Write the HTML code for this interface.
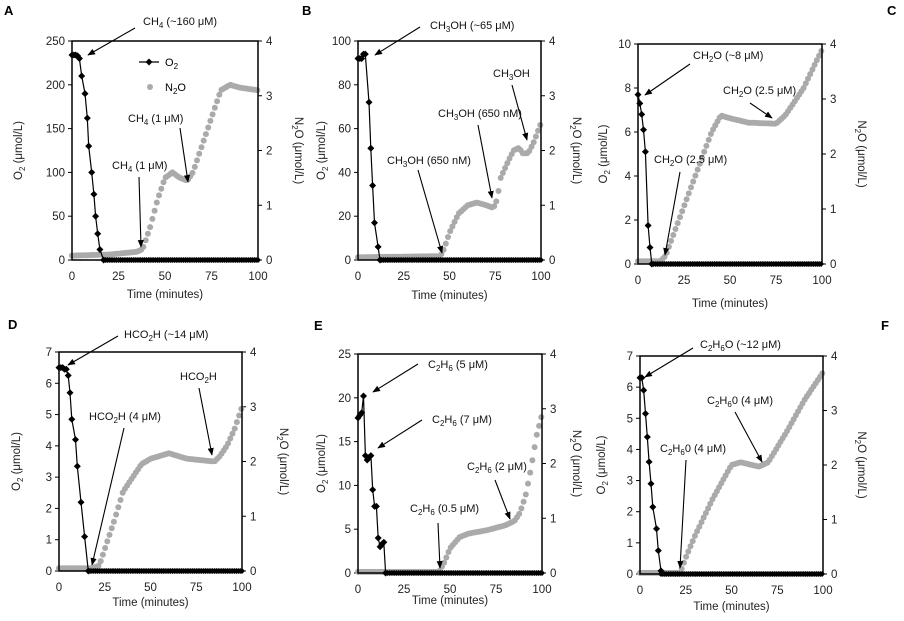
<!DOCTYPE html><html><head><meta charset="utf-8"><style>body{margin:0;background:#fff}svg{display:block;font-family:"Liberation Sans",sans-serif}</style></head><body>
<svg id="s" width="904" height="621" xmlns="http://www.w3.org/2000/svg">
<defs><marker id="ah" viewBox="0 0 10 10" refX="9" refY="5" markerWidth="7" markerHeight="7" orient="auto"><path d="M0,1 L10,5 L0,9 z" fill="#000"/></marker></defs>
<g id="g"></g>
<text x="4" y="15" font-size="13" font-weight="bold">A</text>
<text x="302" y="15" font-size="13" font-weight="bold">B</text>
<text x="887" y="15" font-size="13" font-weight="bold">C</text>
<text x="8" y="329" font-size="13" font-weight="bold">D</text>
<text x="314" y="330" font-size="13" font-weight="bold">E</text>
<text x="881" y="330" font-size="13" font-weight="bold">F</text>
</svg>
<script>
var P=[
{l:72,r:258,t:41,b:260,ym:250,ys:50,ly:22,ry:295,ty:298,
o:[[0,234],[1,234],[2,234],[3,233],[4,230],[5.2,210],[7,190],[8.2,162],[9,130],[10.6,100],[11.8,75],[12.7,50],[13.8,30],[15,12],[17,0]],
n:[[0,.08],[20,.1],[35,.15],[38,.2],[42,.6],[46,1.1],[50,1.5],[54,1.6],[58,1.5],[62,1.45],[65,1.6],[70,2.1],[75,2.6],[80,3.1],[85,3.2],[90,3.15],[100,3.1]],
a:[["CH<tspan font-size='8' dy='3'>4</tspan><tspan dy='-3'> (~160 μM)</tspan>",143,25,135,28,88,55],["CH<tspan font-size='8' dy='3'>4</tspan><tspan dy='-3'> (1 μM)</tspan>",128,122,180,128,188,182],["CH<tspan font-size='8' dy='3'>4</tspan><tspan dy='-3'> (1 μM)</tspan>",112,169,139,177,141,247]]},
{l:358,r:541,t:41,b:260,ym:100,ys:20,ly:325,ry:573,ty:299,
o:[[0,92],[1,92],[2,92],[3,94],[4,94],[6,72],[7,51],[8,34],[9,17],[11,6],[12,0]],
n:[[0,.05],[45,.07],[47,.2],[50,.5],[55,.85],[60,1],[65,1.05],[70,1],[74,.95],[76,1.1],[78,1.5],[82,1.8],[85,2],[88,2.05],[90,1.95],[93,1.95],[96,2.15],[100,2.5]],
a:[["CH<tspan font-size='8' dy='3'>3</tspan><tspan dy='-3'>OH (~65 μM)</tspan>",430,29,420,27,375,55],["CH<tspan font-size='8' dy='3'>3</tspan><tspan dy='-3'>OH</tspan>",493,77,512,85,527,140],["CH<tspan font-size='8' dy='3'>3</tspan><tspan dy='-3'>OH (650 nM)</tspan>",438,117,478,125,492,198],["CH<tspan font-size='8' dy='3'>3</tspan><tspan dy='-3'>OH (650 nM)</tspan>",387,164,418,170,442,253]]},
{l:638,r:822,t:44,b:264,ym:10,ys:2,ly:607,ry:858,ty:307,
o:[[0,7.7],[1,7.3],[2,6.8],[3,6.1],[4,5.1],[5.5,1.75],[6.5,.75],[7.5,0]],
n:[[0,.05],[12,.05],[15,.15],[20,.6],[30,1.5],[40,2.4],[45,2.7],[50,2.65],[60,2.57],[75,2.55],[80,2.7],[90,3.2],[100,3.9]],
a:[["CH<tspan font-size='8' dy='3'>2</tspan><tspan dy='-3'>O (~8 μM)</tspan>",693,59,690,64,645,95],["CH<tspan font-size='8' dy='3'>2</tspan><tspan dy='-3'>O (2.5 μM)</tspan>",723,94,750,103,772,118],["CH<tspan font-size='8' dy='3'>2</tspan><tspan dy='-3'>O (2.5 μM)</tspan>",654,163,680,172,665,255]]},
{l:59,r:242,t:352,b:571,ym:7,ys:1,ly:20,ry:280,ty:606,
o:[[0,6.5],[1,6.5],[2,6.5],[3,6.45],[4,6.45],[5,6.25],[6,5.7],[7,4.85],[9,4.2],[10,3.35],[12,2.2],[14,1.1],[16,0]],
n:[[0,.05],[18,.05],[22,.1],[25,.4],[30,.9],[35,1.45],[40,1.7],[45,1.95],[50,2.05],[60,2.15],[70,2.05],[85,2],[88,2.1],[92,2.3],[96,2.6],[100,3]],
a:[["HCO<tspan font-size='8' dy='3'>2</tspan><tspan dy='-3'>H (~14 μM)</tspan>",124,338,118,336,68,365],["HCO<tspan font-size='8' dy='3'>2</tspan><tspan dy='-3'>H</tspan>",180,380,199,388,212,455],["HCO<tspan font-size='8' dy='3'>2</tspan><tspan dy='-3'>H (4 μM)</tspan>",89,420,124,428,92,565]]},
{l:358,r:542,t:354,b:573,ym:25,ys:5,ly:325,ry:573,ty:604,
o:[[0,17.7],[1,18],[2,18.3],[3,20.2],[4,13.4],[5,12.9],[6,13.2],[7,13.4],[8,9.5],[9,7.6],[10,7.6],[11,4],[12,3],[13,3.3],[14,3.5],[15,0]],
n:[[0,.02],[44,.02],[47,.2],[50,.45],[55,.65],[60,.72],[70,.78],[80,.87],[85,.95],[88,1.1],[91,1.4],[94,1.9],[97,2.5],[100,2.9]],
a:[["C<tspan font-size='8' dy='3'>2</tspan><tspan dy='-3'>H</tspan><tspan font-size='8' dy='3'>6</tspan><tspan dy='-3'> (5 μM)</tspan>",428,368,418,364,373,392],["C<tspan font-size='8' dy='3'>2</tspan><tspan dy='-3'>H</tspan><tspan font-size='8' dy='3'>6</tspan><tspan dy='-3'> (7 μM)</tspan>",432,423,422,420,378,448],["C<tspan font-size='8' dy='3'>2</tspan><tspan dy='-3'>H</tspan><tspan font-size='8' dy='3'>6</tspan><tspan dy='-3'> (0.5 μM)</tspan>",410,512,438,523,440,568],["C<tspan font-size='8' dy='3'>2</tspan><tspan dy='-3'>H</tspan><tspan font-size='8' dy='3'>6</tspan><tspan dy='-3'> (2 μM)</tspan>",467,470,495,480,510,519]]},
{l:640,r:823,t:356,b:574,ym:7,ys:1,ly:605,ry:858,ty:610,
o:[[0,6.3],[1,6.3],[2,5.9],[3,5.15],[4,4.4],[5,3.6],[6,2.9],[7,2.15],[9,1.45],[10,.75],[11.5,.1]],
n:[[0,.02],[22,.02],[25,.3],[30,.7],[40,1.4],[50,2],[55,2.05],[65,1.97],[70,2.05],[80,2.6],[90,3.2],[100,3.7]],
a:[["C<tspan font-size='8' dy='3'>2</tspan><tspan dy='-3'>H</tspan><tspan font-size='8' dy='3'>6</tspan><tspan dy='-3'>O (~12 μM)</tspan>",700,348,693,348,645,377],["C<tspan font-size='8' dy='3'>2</tspan><tspan dy='-3'>H</tspan><tspan font-size='8' dy='3'>6</tspan><tspan dy='-3'>0 (4 μM)</tspan>",707,404,735,412,762,462],["C<tspan font-size='8' dy='3'>2</tspan><tspan dy='-3'>H</tspan><tspan font-size='8' dy='3'>6</tspan><tspan dy='-3'>0 (4 μM)</tspan>",660,452,686,460,680,568]]}
];
function interp(a,t){for(var i=1;i<a.length;i++)if(t<=a[i][0]){var p=a[i-1],q=a[i];return p[1]+(q[1]-p[1])*(t-p[0])/(q[0]-p[0]);}return a[a.length-1][1];}
function dia(x,y,r){x=+x;y=+y;return "<path d='M"+x.toFixed(1)+","+(y-r).toFixed(1)+"L"+(x+r).toFixed(1)+","+y.toFixed(1)+"L"+x.toFixed(1)+","+(y+r).toFixed(1)+"L"+(x-r).toFixed(1)+","+y.toFixed(1)+"z'/>";}
var h="";
P.forEach(function(p){
var X=function(t){return p.l+(p.r-p.l)*t/100},Y=function(v){return p.b-(p.b-p.t)*v/p.ym},N=function(v){return p.b-(p.b-p.t)*v/4};
h+="<g font-size='11.5' fill='#222'>";
for(var v=0;v<=p.ym+1e-9;v+=p.ys){h+="<text x='"+(p.l-7)+"' y='"+(Y(v)+4)+"' text-anchor='end'>"+Math.round(v)+"</text><line x1='"+(p.l-4)+"' x2='"+p.l+"' y1='"+Y(v)+"' y2='"+Y(v)+"' stroke='#000'/>";}
for(var k=0;k<=4;k++){h+="<text x='"+(p.r+8)+"' y='"+(N(k)+4)+"'>"+k+"</text><line x1='"+p.r+"' x2='"+(p.r+4)+"' y1='"+N(k)+"' y2='"+N(k)+"' stroke='#000'/>";}
for(var t=0;t<=100;t+=25){h+="<text x='"+X(t)+"' y='"+(p.b+20)+"' text-anchor='middle'>"+t+"</text>";}
h+="<text x='"+((p.l+p.r)/2)+"' y='"+p.ty+"' text-anchor='middle'>Time (minutes)</text>";
var my=(p.t+p.b)/2;
h+="<text transform='translate("+p.ly+","+my+") rotate(-90)' text-anchor='middle'>O<tspan font-size='8' dy='3'>2</tspan><tspan dy='-3'> (μmol/L)</tspan></text>";
h+="<text transform='translate("+p.ry+","+my+") rotate(90)' text-anchor='middle'>N<tspan font-size='8' dy='3'>2</tspan><tspan dy='-3'>O (μmol/L)</tspan></text></g>";
h+="<g fill='#aaa'>";for(var t=0;t<=100.01;t+=1.2){h+="<circle cx='"+X(t).toFixed(1)+"' cy='"+N(interp(p.n,t)).toFixed(1)+"' r='3'/>";}h+="</g>";
var pts=p.o.map(function(q){return X(q[0]).toFixed(1)+","+Y(q[1]).toFixed(1)}).join(" ");
h+="<polyline points='"+pts+"' fill='none' stroke='#000' stroke-width='1.2'/><g fill='#000'>";
p.o.forEach(function(q){h+=dia(X(q[0]),Y(q[1]),3.5)});
var t0=p.o[p.o.length-1][0];for(var t=t0;t<=100;t+=1){h+=dia(X(t),p.b,3)}
h+="</g>";
h+="<rect x='"+p.l+"' y='"+p.t+"' width='"+(p.r-p.l)+"' height='"+(p.b-p.t)+"' fill='none' stroke='#000' stroke-width='1.5'/>";
p.a.forEach(function(a){h+="<text x='"+a[1]+"' y='"+a[2]+"' font-size='11' fill='#111'>"+a[0]+"</text><line x1='"+a[3]+"' y1='"+a[4]+"' x2='"+a[5]+"' y2='"+a[6]+"' stroke='#000' stroke-width='1.1' marker-end='url(#ah)'/>";});
});
h+="<line x1='139' x2='159' y1='62' y2='62' stroke='#000' stroke-width='1.2'/>"+"<g fill='#000'>"+dia(149,62,3.5)+"</g><text x='165' y='66' font-size='11'>O<tspan font-size='8' dy='3'>2</tspan></text><circle cx='150' cy='87' r='3' fill='#aaa'/><text x='165' y='91' font-size='11'>N<tspan font-size='8' dy='3'>2</tspan><tspan dy='-3'>O</tspan></text>";
document.getElementById('g').innerHTML=h;
</script></body></html>
